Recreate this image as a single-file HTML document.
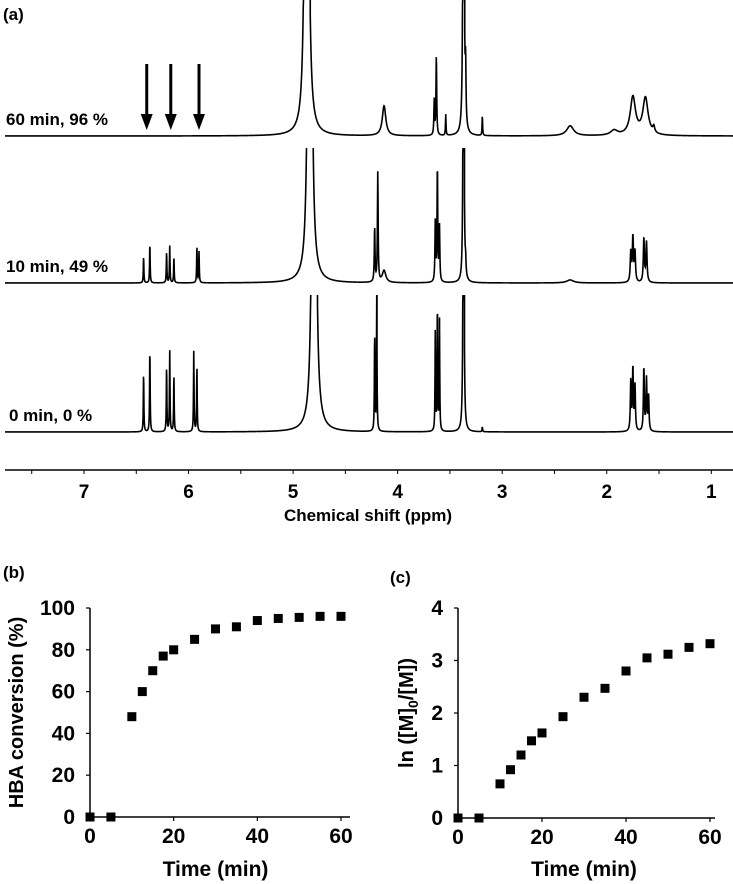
<!DOCTYPE html>
<html><head><meta charset="utf-8"><style>
body{margin:0;background:#fff;}
svg{display:block;font-family:"Liberation Sans Narrow","Liberation Sans",sans-serif;font-weight:bold;}
</style></head><body>
<svg id="fig" width="733" height="884" viewBox="0 0 733 884" xmlns="http://www.w3.org/2000/svg">
<text x="3" y="20" font-size="17">(a)</text>
<g id="spectra"></g>
<g id="arrows"></g>
<g id="ppmAxis"></g>
<text x="368" y="521" font-size="17" text-anchor="middle" font-family="Liberation Sans, sans-serif">Chemical shift (ppm)</text>
<text x="3" y="578" font-size="17">(b)</text>
<text x="390" y="583" font-size="17">(c)</text>
<g id="chartB"></g>
<g id="chartC"></g>
</svg>
<script>
// ---- NMR data: [ppm, height(px), halfwidth(ppm)] ----
const spec60 = [[4.87,3000,0.007],[4.13,30,0.02],[3.63,80,0.004],[3.65,35,0.004],[3.54,21,0.003],[3.37,900,0.004],[3.35,55,0.004],[3.19,20,0.003],[2.35,10,0.04],[1.93,5,0.04],[1.75,38,0.03],[1.63,37,0.03],[1.55,6,0.01]];
const spec10 = [[6.43,27,0.003],[6.37,41,0.003],[6.21,32,0.003],[6.18,37,0.003],[6.14,26,0.003],[5.92,37,0.003],[5.90,31,0.003],[4.84,3000,0.007],[4.19,110,0.004],[4.22,55,0.004],[4.13,12,0.02],[3.62,116,0.004],[3.64,60,0.004],[3.60,55,0.004],[3.37,900,0.003],[3.35,14,0.004],[2.35,3,0.04],[1.77,30,0.006],[1.75,45,0.006],[1.73,30,0.006],[1.645,44,0.006],[1.62,40,0.006]];
const spec0 = [[6.43,60,0.003],[6.37,86,0.003],[6.21,67,0.003],[6.18,81,0.003],[6.14,58,0.003],[5.95,81,0.003],[5.92,67,0.003],[4.80,3000,0.007],[4.20,136,0.003],[4.22,100,0.003],[3.62,130,0.003],[3.60,112,0.003],[3.64,100,0.003],[3.37,900,0.003],[3.19,5,0.003],[1.77,50,0.005],[1.75,63,0.005],[1.73,45,0.005],[1.645,64,0.005],[1.62,52,0.005],[1.60,35,0.005]];
const specBaselines = [136,283,432];
const specLabels = ["60 min, 96 %","10 min, 49 %","0 min, 0 %"];
const arrowPpm = [6.40,6.17,5.90];
const ppmTicks = [7,6,5,4,3,2,1];
// ---- chart data ----
const timeVals = [0,5,10,12.5,15,17.5,20,25,30,35,40,45,50,55,60];
const convVals = [0,0,48,60,70,77,80,85,90,91,94,95,95.5,96,96];
const lnVals = [0,0,0.65,0.92,1.2,1.47,1.62,1.93,2.3,2.47,2.8,3.05,3.12,3.25,3.32];
const timeTicks = [0,20,40,60];
const convTicks = [0,20,40,60,80,100];
const lnTicks = [0,1,2,3,4];

const NS="http://www.w3.org/2000/svg";
function mk(tag,attrs,parent){const e=document.createElementNS(NS,tag);for(const k in attrs)e.setAttribute(k,attrs[k]);parent.appendChild(e);return e;}
const px = p => 84 + (7-p)*104.55;

const specG=document.getElementById('spectra');
[spec60,spec10,spec0].forEach((peaks,i)=>{
  const b=specBaselines[i];
  const top = i===0?0:specBaselines[i-1]+12;
  let d="";
  let clipped=false, first=true;
  for(let x=5;x<=733;x+=0.25){
    const p=7-(x-84)/104.55;
    let h=0;
    peaks.forEach(([c,a,w])=>{const u=(p-c)/w;h+=a/(1+u*u);});
    let y=b-h;
    if(y<top){
      if(!clipped){ d+="L"+x.toFixed(2)+","+top; }
      clipped=true; continue;
    }
    if(clipped){ d+="M"+x.toFixed(2)+","+top+"L"+x.toFixed(2)+","+y.toFixed(2); }
    else d+=(first?"M":"L")+x.toFixed(2)+","+y.toFixed(2);
    clipped=false; first=false;
  }
  const path=mk('path',{d:d,fill:'none',stroke:'#000','stroke-width':1.6},specG);
  
  
  const t=mk('text',{x:i===2?9:6,y:b-11,'font-size':17},specG);
  
  
  t.textContent=specLabels[i];
});
const arrG=document.getElementById('arrows');
arrowPpm.forEach(p=>{
  const x=px(p);
  const l=mk('line',{x1:x,y1:64,x2:x,y2:116,stroke:'#000','stroke-width':3},arrG);
  
  
  const h=mk('polygon',{points:`${x-6},114 ${x+6},114 ${x},130`,fill:'#000'},arrG);
  
  
});
const axG=document.getElementById('ppmAxis');
mk('line',{x1:5,y1:470,x2:733,y2:470,stroke:'#000','stroke-width':1.6},axG);
for(let p=7.5;p>=0.99;p-=0.5){const x=px(p);mk('line',{x1:x,y1:470,x2:x,y2:474,stroke:'#000','stroke-width':1},axG);}
ppmTicks.forEach(p=>{
  const t=mk('text',{x:px(p),y:498,'font-size':19,'text-anchor':'middle'},axG);
  
  
  t.textContent=p;
});

function scatter(g,x0,x1,y0,y1,ymax,ticks,vals,ytitle,titleX,axisEnd){
  const sx=t=>x0+(t/60)*(x1-x0);
  const sy=v=>y0-(v/ymax)*(y0-y1);
  mk('line',{x1:x0,y1:y1,x2:x0,y2:y0,stroke:'#000','stroke-width':1.5},g);
  mk('line',{x1:x0,y1:y0,x2:axisEnd,y2:y0,stroke:'#000','stroke-width':1.5},g);
  ticks.forEach(v=>{
    mk('line',{x1:x0-4,y1:sy(v),x2:x0,y2:sy(v),stroke:'#000','stroke-width':1.2},g);
    const t=mk('text',{x:x0-15,y:sy(v)+7,'font-size':21,'text-anchor':'end'},g);
    
    
    t.textContent=v;
  });
  timeTicks.forEach(v=>{
    mk('line',{x1:sx(v),y1:y0,x2:sx(v),y2:y0+4,stroke:'#000','stroke-width':1.2},g);
    const t=mk('text',{x:sx(v),y:y0+26,'font-size':21,'text-anchor':'middle'},g);
    
    
    t.textContent=v;
  });
  timeVals.forEach((tv,i)=>{
    const r=mk('rect',{x:sx(tv)-4.5,y:sy(vals[i])-4.5,width:9,height:9,fill:'#000'},g);
    
    
  });
  const xt=mk('text',{x:(x0+x1)/2,y:876,'font-size':21,'text-anchor':'middle'},g);
  
  
  xt.textContent='Time (min)';
  const yt=mk('text',{x:0,y:0,'font-size':20,'text-anchor':'middle','font-family':'Liberation Sans, sans-serif',transform:`translate(${titleX},${(y0+y1)/2}) rotate(-90)`},g);
  
  
  yt.innerHTML=ytitle;
}
scatter(document.getElementById('chartB'),90,341,817,608,100,convTicks,convVals,'HBA conversion (%)',23,350);
scatter(document.getElementById('chartC'),458,710,818,608,4,lnTicks,lnVals,'ln ([M]<tspan font-size="14" dy="5">0</tspan><tspan dy="-5">/[M])</tspan>',413,715);
</script>
</body></html>
